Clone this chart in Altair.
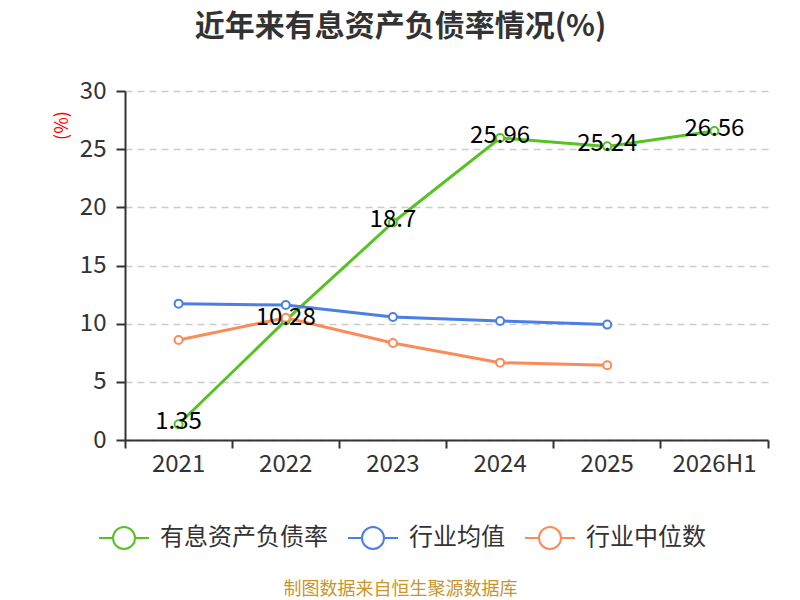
import altair as alt
import pandas as pd

years = ["2021", "2022", "2023", "2024", "2025", "2026H1"]
rate = [1.35, 10.28, 18.7, 25.96, 25.24, 26.56]
avg_years = ["2021", "2022", "2023", "2024", "2025"]
industry_avg = [11.72, 11.6, 10.58, 10.23, 9.92]
industry_median = [8.6, 10.5, 8.34, 6.65, 6.42]

series_names = ["有息资产负债率", "行业均值", "行业中位数"]
series_colors = ["#56c322", "#4b7fe6", "#fb8b58"]
title_text = "近年来有息资产负债率情况(%)"
footer_text = "制图数据来自恒生聚源数据库"
y_ticks = [0, 5, 10, 15, 20, 25, 30]

rows = []
for y, v in zip(years, rate):
    rows.append({"year": y, "value": v, "series": series_names[0]})
for y, v in zip(avg_years, industry_avg):
    rows.append({"year": y, "value": v, "series": series_names[1]})
for y, v in zip(avg_years, industry_median):
    rows.append({"year": y, "value": v, "series": series_names[2]})
df = pd.DataFrame(rows)
df["order"] = df["series"].map({n: i for i, n in enumerate(series_names)})

FONT = "Noto Sans CJK SC"
legend_symbol = "M-1,0L-0.44,0M0.44,0L1,0M0.44,0A0.44,0.44,0,1,1,-0.44,0A0.44,0.44,0,1,1,0.44,0"

x_enc = alt.X(
    "year:N",
    sort=years,
    scale=alt.Scale(type="band", domain=years, paddingInner=0, paddingOuter=0),
    axis=alt.Axis(
        title=footer_text,
        titleColor="#c9952b",
        titleFontSize=18,
        titleFontWeight="normal",
        titleX=275,
        titleY=149,
        titleBaseline="middle",
        titleAlign="center",
        labelFontSize=24,
        labelColor="#333333",
        labelPadding=4,
        labelAngle=0,
        domainColor="#333333",
        domainWidth=2,
        tickColor="#333333",
        tickWidth=2,
        tickSize=8,
        bandPosition=1,
        tickExtra=True,
        grid=False,
    ),
)
y_enc = alt.Y(
    "value:Q",
    scale=alt.Scale(domain=[0, 30], nice=False),
    axis=alt.Axis(
        values=y_ticks,
        title="(%)",
        titleColor="#ff0000",
        titleFontSize=18,
        titleFontWeight="normal",
        titleX=-63,
        titleY=34,
        titleAlign="center",
        titleBaseline="middle",
        labelFontSize=24,
        labelColor="#333333",
        labelPadding=10,
        domainColor="#333333",
        domainWidth=2,
        tickColor="#333333",
        tickWidth=2,
        tickSize=9,
        grid=True,
        gridColor="#cccccc",
        gridDash=[7, 5],
        gridWidth=1.5,
    ),
)
color_enc = alt.Color(
    "series:N",
    sort=series_names,
    scale=alt.Scale(domain=series_names, range=series_colors),
    legend=alt.Legend(
        title=None,
        orient="none",
        direction="horizontal",
        legendX=-27,
        legendY=421,
        symbolType=legend_symbol,
        symbolSize=2500,
        symbolStrokeWidth=2,
        symbolFillColor="white",
        labelFontSize=24,
        labelLimit=400,
        labelColor="#333333",
        labelOffset=10,
        columnPadding=16,
    ),
)

base = alt.Chart(df).encode(x=x_enc, y=y_enc, color=color_enc, order="order:Q")

lines = base.mark_line(strokeWidth=3)
points = base.mark_point(filled=False, fill="white", size=64, strokeWidth=2, opacity=1)
labels = alt.Chart(df[df["series"] == series_names[0]]).mark_text(
    fontSize=24, color="#000000", dy=-2
).encode(x=alt.X("year:N", sort=years), y="value:Q", text="value:N")

chart = (
    alt.layer(lines, points, labels)
    .properties(
        width=643,
        height=349,
        autosize=alt.AutoSizeParams(type="none"),
        padding={"left": 117, "top": 83, "right": 24, "bottom": 160},
        title=alt.TitleParams(
            title_text,
            anchor="middle",
            fontSize=30,
            fontWeight="bold",
            color="#333333",
            dx=-46,
            offset=22,
            baseline="middle",
        ),
    )
    .configure(font=FONT)
    .configure_view(stroke=None)
)

chart.save("out.html", embed_options={"renderer": "svg", "actions": False})
